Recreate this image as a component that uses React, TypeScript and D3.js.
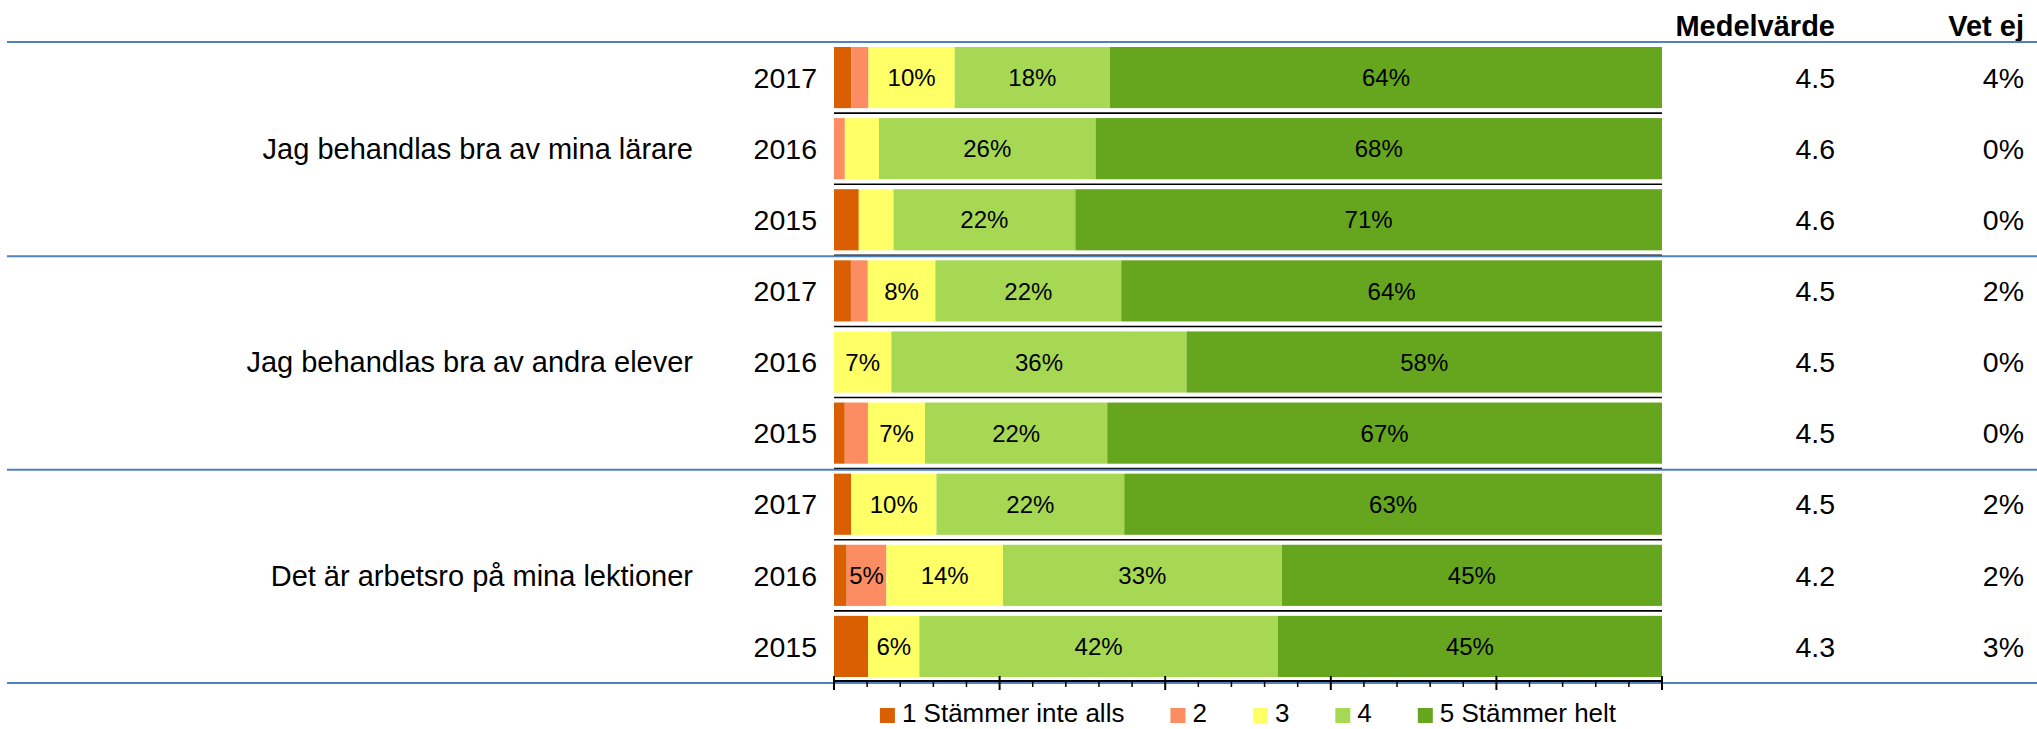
import React from "react";
import * as d3 from "d3";

// questions, years and answer categories
const questions = [
  "Jag behandlas bra av mina lärare",
  "Jag behandlas bra av andra elever",
  "Det är arbetsro på mina lektioner",
];
const years = ["2017", "2016", "2015"];
const answers = ["1 Stämmer inte alls", "2", "3", "4", "5 Stämmer helt"];
const colors = ["#D95F02", "#FC8D62", "#FFFF66", "#A6D854", "#66A61E"];

// share of answers per row (rows: question x year), in percent
const s1 = [2, 0, 3, 2, 0, 1.3, 2, 1.5, 4];
const s2 = [2, 1.3, 0, 2, 0, 2.8, 0, 4.7, 0];
const s3 = [10, 4.1, 4.2, 8, 7, 6.9, 10, 13.8, 6];
const s4 = [18, 26, 22, 22, 36, 22, 22, 33, 42];
const s5 = [64, 68, 71, 64, 58, 67, 63, 45, 45];
const medel = [4.5, 4.6, 4.6, 4.5, 4.5, 4.5, 4.5, 4.2, 4.3];
const vetEj = [4, 0, 0, 2, 0, 0, 2, 2, 3];

const series = [s1, s2, s3, s4, s5];
const FONT = "'Liberation Sans', Arial, sans-serif";

function measure(text: string, size: number) {
  const ctx = document.createElement("canvas").getContext("2d");
  if (!ctx) return text.length * size * 0.55;
  ctx.font = `${size}px 'Liberation Sans', Arial, sans-serif`;
  return ctx.measureText(text).width;
}

export default function App() {
  const width = 2037;
  const height = 729;
  const left = 834;
  const right = 1662;
  const top = 42;
  const bottom = 682;

  const rows = questions.flatMap((q, qi) => years.map((yr) => ({ q, qi, yr })));
  const keys = rows.map((_, i) => String(i));

  const x = d3.scaleLinear().domain([0, 100]).range([left, right]);
  const y = d3
    .scaleBand()
    .domain(keys)
    .range([top, bottom])
    .paddingInner(0.14)
    .paddingOuter(0.07);
  const step = y.step();
  const gap = (step - y.bandwidth()) / 2;

  // stack and normalize each row to 100%
  const stacked = rows.map((_, i) => {
    const vals = series.map((s) => s[i]);
    const total = d3.sum(vals);
    let acc = 0;
    return vals.map((v, k) => {
      const x0 = (acc / total) * 100;
      acc += v;
      return { k, v, x0, x1: (acc / total) * 100 };
    });
  });

  const majorTicks = d3.range(0, 101, 20);
  const minorTicks = d3.range(0, 101, 4).filter((t) => t % 20 !== 0);

  // legend layout, centered under the bars
  const legSize = 26;
  const legItems = answers.map((a) => ({ a, w: 15 + 7 + measure(a, legSize) }));
  const legTotal = d3.sum(legItems, (d) => d.w) + 46 * (answers.length - 1);
  let lx = (left + right) / 2 - legTotal / 2;
  const legPos = legItems.map((d) => {
    const p = lx;
    lx += d.w + 46;
    return p;
  });

  const groupLines = d3.range(0, questions.length + 1).map((g) => top + g * step * 3);

  return (
    <div style={{ position: "absolute", left: 0, top: 0 }}>
      <svg width={width} height={height} style={{ display: "block", fontFamily: FONT }}>
        <rect width={width} height={height} fill="#fff" />

        {/* header */}
        <text x={1835} y={36} fontSize={29} fontWeight="bold" textAnchor="end">
          Medelvärde
        </text>
        <text x={2024} y={36} fontSize={29} fontWeight="bold" textAnchor="end">
          Vet ej
        </text>

        {/* bars */}
        {stacked.map((segs, i) => (
          <g key={i}>
            {segs.map((s) =>
              s.v > 0 ? (
                <rect
                  key={s.k}
                  x={x(s.x0)}
                  y={y(String(i))}
                  width={x(s.x1) - x(s.x0)}
                  height={y.bandwidth()}
                  fill={colors[s.k]}
                />
              ) : null
            )}
            {segs.map((s) =>
              Math.round(s.v) >= 5 ? (
                <text
                  key={"t" + s.k}
                  x={(x(s.x0) + x(s.x1)) / 2}
                  y={(y(String(i)) as number) + y.bandwidth() / 2}
                  dy="0.36em"
                  fontSize={24}
                  textAnchor="middle"
                  fill="#000"
                >
                  {Math.round(s.v)}%
                </text>
              ) : null
            )}
          </g>
        ))}

        {/* row separators */}
        {keys.slice(1).map((k) => (
          <line
            key={k}
            x1={left}
            x2={right}
            y1={(y(k) as number) - gap}
            y2={(y(k) as number) - gap}
            stroke="#000"
            strokeWidth={1.6}
          />
        ))}

        {/* group separators */}
        {groupLines.map((gy, g) => (
          <line
            key={g}
            x1={7}
            x2={width}
            y1={g === 0 ? gy : gy + 1}
            y2={g === 0 ? gy : gy + 1}
            stroke="#4F81BD"
            strokeWidth={2}
          />
        ))}

        {/* axis */}
        <line x1={left} x2={right} y1={bottom - 1} y2={bottom - 1} stroke="#000" strokeWidth={2} />
        {majorTicks.map((t) => (
          <line key={t} x1={x(t)} x2={x(t)} y1={bottom - 6} y2={bottom + 8} stroke="#000" strokeWidth={2} />
        ))}
        {minorTicks.map((t) => (
          <line key={t} x1={x(t)} x2={x(t)} y1={bottom - 1} y2={bottom + 5} stroke="#000" strokeWidth={1.5} />
        ))}

        {/* row labels */}
        {rows.map((r, i) => {
          const cy = (y(String(i)) as number) + y.bandwidth() / 2;
          return (
            <g key={"l" + i} fontSize={28.5}>
              <text x={817} y={cy} dy="0.36em" textAnchor="end">
                {r.yr}
              </text>
              <text x={1835} y={cy} dy="0.36em" textAnchor="end">
                {medel[i].toFixed(1)}
              </text>
              <text x={2024} y={cy} dy="0.36em" textAnchor="end">
                {vetEj[i]}%
              </text>
            </g>
          );
        })}
        {questions.map((q, qi) => {
          const mid = (y(String(qi * 3 + 1)) as number) + y.bandwidth() / 2;
          return (
            <text key={q} x={693} y={mid} dy="0.36em" fontSize={29} textAnchor="end">
              {q}
            </text>
          );
        })}

        {/* legend */}
        {answers.map((a, k) => (
          <g key={a}>
            <rect x={legPos[k]} y={708} width={15} height={15} fill={colors[k]} />
            <text x={legPos[k] + 22} y={722} fontSize={legSize}>
              {a}
            </text>
          </g>
        ))}
      </svg>
    </div>
  );
}
